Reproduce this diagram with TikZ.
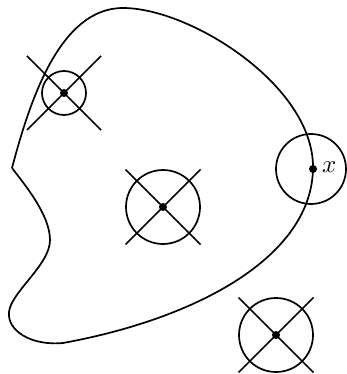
\documentclass[tikz,border=0pt]{standalone}
\begin{document}
\begin{tikzpicture}[x=1pt,y=-1pt,line width=1.7pt,
  ring/.style={draw,circle,inner sep=0pt,minimum size=#1},
  pt/.style={fill,circle,inner sep=0pt,minimum size=8pt}]
\useasboundingbox (0,0) rectangle (347,374);
% blob
\draw (12,168) .. controls (30,100) and (60,8) .. (123,8)
  .. controls (190,8) and (313,85) .. (313,167)
  .. controls (313,255) and (200,318) .. (63,343)
  .. controls (30,346) and (7,330) .. (9,312)
  .. controls (11,292) and (50,265) .. (50,240)
  .. controls (50,215) and (25,185) .. (12,168);
% top-left
\node[ring=44pt] (c1) at (64,93) {};
\node[pt] (p1) at (64,93) {};
\coordinate (a1) at (27,56); \coordinate (b1) at (101,130);
\coordinate (d1) at (101,56); \coordinate (e1) at (27,130);
\draw (a1) -- (b1); \draw (d1) -- (e1);
% middle
\node[ring=74pt] (c2) at (163,207) {};
\node[pt] (p2) at (163,207) {};
\coordinate (a2) at (125.5,169.5); \coordinate (b2) at (200.5,244.5);
\coordinate (d2) at (200.5,169.5); \coordinate (e2) at (125.5,244.5);
\draw (a2) -- (b2); \draw (d2) -- (e2);
% bottom right
\node[ring=74pt] (c3) at (276,335) {};
\node[pt] (p3) at (276,335) {};
\coordinate (a3) at (238.5,297.5); \coordinate (b3) at (313.5,372.5);
\coordinate (d3) at (313.5,297.5); \coordinate (e3) at (238.5,372.5);
\draw (a3) -- (b3); \draw (d3) -- (e3);
% right
\node[ring=70pt] (c4) at (311,169) {};
\node[pt] (p4) at (313,169) {};
\node[anchor=west,inner sep=0pt,scale=2.5] (lx) at (320,167) {$x$};
\end{tikzpicture}
\end{document}
